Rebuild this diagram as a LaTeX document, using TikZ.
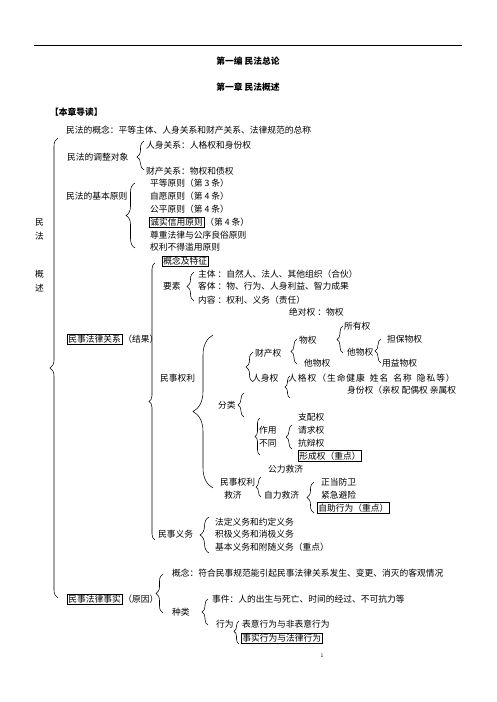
\documentclass[tikz,border=0pt]{standalone}
\usepackage{fontspec}
\setmainfont{Noto Sans CJK SC}
\newfontfamily\spaced[LetterSpace=11]{Noto Sans CJK SC}
\usetikzlibrary{positioning, decorations.pathreplacing}

\begin{document}
\begin{tikzpicture}[x=1pt, y=-1pt,
          txt/.style={anchor=west, inner sep=0pt, font=\fontsize{8.75}{10}\selectfont},
          keybox/.style={txt, draw, inner sep=1pt, line width=0.75pt},
          head/.style={inner sep=0pt, font=\fontsize{8.75}{10}\selectfont\bfseries},
          brc/.style={decorate, decoration={brace, amplitude=#1, aspect=0.5}, line width=0.55pt}
        ]
          \useasboundingbox (0,0) rectangle (496,702);
          \coordinate (ruleL) at (34,45);
          \coordinate (ruleR) at (462,45);
          \draw[line width=0.8pt] (ruleL) -- (ruleR);
          \node[head] (part) at (248,61) {第一编 民法总论};
          \node[head] (chap) at (248,87) {第一章 民法概述};
          \node[head, anchor=west] (guide) at (50,112) {【本章导读】};

          \node[txt, anchor=center] (vmin) at (39.5,222) {民};
          \node[txt, anchor=center] (vfa) at (39.5,236) {法};
          \node[txt, anchor=center] (vgai) at (39.5,274) {概};
          \node[txt, anchor=center] (vshu) at (39.5,288) {述};
          \draw[brc=8] (58,598) -- (58,138);

          \node[txt] (concept) at (66,130) {民法的概念：平等主体、人身关系和财产关系、法律规范的总称};
          \node[txt] (object) at (67,157) {民法的调整对象};
          \node[txt] (personal) at (146,145) {人身关系：人格权和身份权};
          \node[txt] (property) at (146,171) {财产关系：物权和债权};
          \draw[brc=7, decoration={aspect=0.45}] (144,170) -- (144,141);

          \node[txt] (principles) at (66,196) {民法的基本原则};
          \node[txt] (equal) at (150,183) {平等原则（第 3 条）};
          \node[txt] (free) at (150,196) {自愿原则（第 4 条）};
          \node[txt] (fair) at (150,209) {公平原则（第 4 条）};
          \node[keybox] (honest) at (149,222) {诚实信用原则};
          \node[txt, right=1pt of honest] (honestart) {（第 4 条）};
          \node[txt] (order) at (150,235) {尊重法律与公序良俗原则};
          \node[txt] (abuse) at (150,247) {权利不得滥用原则};
          \draw[brc=9] (135,248) -- (135,183);

          \node[keybox] (relation) at (67,339) {民事法律关系};
          \node[txt, right=1pt of relation] (result) {（结果）};
          \draw[brc=6] (155,540) -- (155,263);
          \node[keybox] (feature) at (162,261) {概念及特征};
          \node[txt] (element) at (163,286) {要素};
          \node[txt] (subject) at (198,274) {主体 ：自然人、法人、其他组织（合伙）};
          \node[txt] (target) at (198,286) {客体 ：物、行为、人身利益、智力成果};
          \node[txt] (content) at (198,300) {内容 ：权利、义务（责任）};
          \draw[brc=7] (194,301) -- (194,272);
          \node[txt] (absolute) at (289,312) {绝对权 ：物权};

          \node[txt] (rights) at (160,378) {民事权利};
          \draw[brc=20] (213,488) -- (213,335);
          \node[txt] (wealth) at (255,353) {财产权};
          \node[txt] (person) at (252,378) {人身权};
          \draw[brc=7] (253,382) -- (253,352);
          \node[txt] (real) at (299,340) {物权};
          \node[txt] (otherlow) at (304,363) {他物权};
          \draw[brc=6] (297,364) -- (297,339);
          \node[txt] (own) at (344,326) {所有权};
          \node[txt] (other) at (347,352) {他物权};
          \draw[brc=6] (343,353) -- (343,326);
          \node[txt] (security) at (387,339) {担保物权};
          \node[txt] (usufruct) at (382,363) {用益物权};
          \draw[brc=6] (381,363) -- (381,339);
          \node[txt, font=\fontsize{8.75}{10}\spaced] (personality) at (288,378) {人格权（生命健康\hspace{5pt}姓名\hspace{5pt}名称\hspace{5pt}隐私等）};
          \node[txt] (identity) at (347,390) {身份权（亲权 配偶权 亲属权};
          \draw[brc=5] (290,398) -- (290,376);

          \node[txt] (kinds) at (218,405) {分类};
          \draw[brc=6] (244,417) -- (244,393);
          \node[txt] (effect) at (259,430) {作用};
          \node[txt] (differ) at (259,443) {不同};
          \draw[brc=5] (260,455) -- (260,418);
          \node[txt] (control) at (298,417) {支配权};
          \node[txt] (claim) at (298,430) {请求权};
          \node[txt] (defence) at (298,443) {抗辩权};
          \node[keybox] (formation) at (298,456) {形成权（重点）};
          \draw[brc=6] (292,449) -- (292,425);

          \node[txt] (public) at (268,469) {公力救济};
          \node[txt] (remedy) at (220,482) {民事权利};
          \node[txt] (remedyb) at (224,495) {救济};
          \draw[brc=5] (261,497) -- (261,477);
          \node[txt] (self) at (264,495) {自力救济};
          \node[txt] (defense) at (321,482) {正当防卫};
          \node[txt] (necessity) at (321,495) {紧急避险};
          \node[keybox] (selfhelp) at (317,508) {自助行为（重点）};
          \draw[brc=7] (314,513) -- (314,482);

          \node[txt] (duties) at (158,534) {民事义务};
          \node[txt] (legal) at (215,522) {法定义务和约定义务};
          \node[txt] (active) at (215,534) {积极义务和消极义务};
          \node[txt] (basic) at (215,547) {基本义务和附随义务（重点）};
          \draw[brc=9] (209,553) -- (209,517);

          \node[keybox] (fact) at (67,599) {民事法律事实};
          \node[txt, right=1pt of fact] (cause) {（原因）};
          \draw[brc=7] (163,613) -- (163,574);
          \node[txt] (factdef) at (172,573) {概念：符合民事规范能引起民事法律关系发生、变更、消灭的客观情况};
          \node[txt] (sort) at (172,612) {种类};
          \node[txt] (event) at (212,599) {事件：人的出生与死亡、时间的经过、不可抗力等};
          \node[txt] (act) at (216,624) {行为};
          \draw[brc=6] (208,625) -- (208,599);
          \node[txt] (express) at (242,624) {表意行为与非表意行为};
          \node[keybox] (juristic) at (241,638) {事实行为与法律行为};
          \draw[brc=5, decoration={aspect=0.55}] (239,644) -- (239,621);

          \node[inner sep=0pt, font=\fontsize{5}{6}\selectfont] (page) at (322,656) {1};
        \end{tikzpicture}
\end{document}
